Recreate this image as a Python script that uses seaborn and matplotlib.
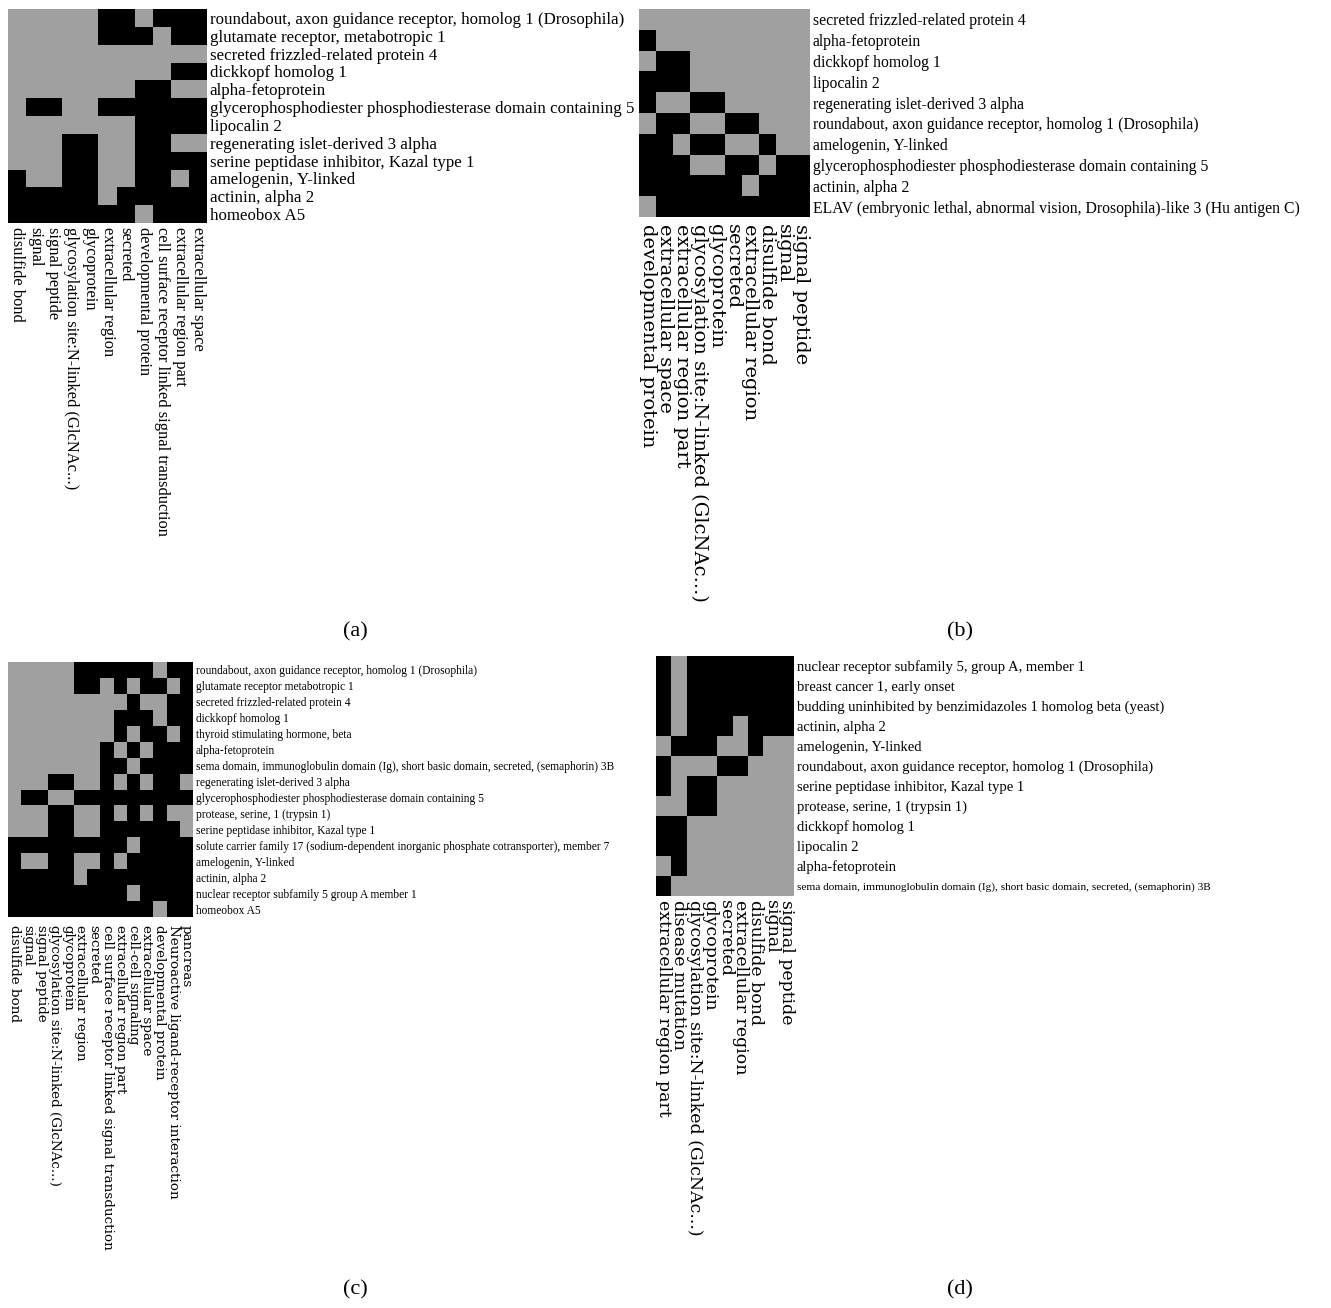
import numpy as np
import pandas as pd
import matplotlib
matplotlib.use("Agg")
import matplotlib.pyplot as plt
import seaborn as sns
from matplotlib.colors import ListedColormap

# ---- panel (a) ----
colsA = ["disulfide bond", "signal", "signal peptide", "glycosylation site:N-linked (GlcNAc...)",
         "glycoprotein", "extracellular region", "secreted", "developmental protein",
         "cell surface receptor linked signal transduction", "extracellular region part",
         "extracellular space"]
rowsA = ["roundabout, axon guidance receptor, homolog 1 (Drosophila)",
         "glutamate receptor, metabotropic 1",
         "secreted frizzled-related protein 4",
         "dickkopf homolog 1",
         "alpha-fetoprotein",
         "glycerophosphodiester phosphodiesterase domain containing 5",
         "lipocalin 2",
         "regenerating islet-derived 3 alpha",
         "serine peptidase inhibitor, Kazal type 1",
         "amelogenin, Y-linked",
         "actinin, alpha 2",
         "homeobox A5"]
matA = [[0, 0, 0, 0, 0, 1, 1, 0, 1, 1, 1],
        [0, 0, 0, 0, 0, 1, 1, 1, 0, 1, 1],
        [0, 0, 0, 0, 0, 0, 0, 0, 0, 0, 0],
        [0, 0, 0, 0, 0, 0, 0, 0, 0, 1, 1],
        [0, 0, 0, 0, 0, 0, 0, 1, 1, 0, 0],
        [0, 1, 1, 0, 0, 1, 1, 1, 1, 1, 1],
        [0, 0, 0, 0, 0, 0, 0, 1, 1, 1, 1],
        [0, 0, 0, 1, 1, 0, 0, 1, 1, 0, 0],
        [0, 0, 0, 1, 1, 0, 0, 1, 1, 1, 1],
        [1, 0, 0, 1, 1, 0, 0, 1, 1, 0, 1],
        [1, 1, 1, 1, 1, 0, 1, 1, 1, 1, 1],
        [1, 1, 1, 1, 1, 1, 1, 0, 1, 1, 1]]

# ---- panel (b) ----
colsB = ["developmental protein", "extracellular space", "extracellular region part",
         "glycosylation site:N-linked (GlcNAc...)", "glycoprotein", "secreted",
         "extracellular region", "disulfide bond", "signal", "signal peptide"]
rowsB = ["secreted frizzled-related protein 4",
         "alpha-fetoprotein",
         "dickkopf homolog 1",
         "lipocalin 2",
         "regenerating islet-derived 3 alpha",
         "roundabout, axon guidance receptor, homolog 1 (Drosophila)",
         "amelogenin, Y-linked",
         "glycerophosphodiester phosphodiesterase domain containing 5",
         "actinin, alpha 2",
         "ELAV (embryonic lethal, abnormal vision, Drosophila)-like 3 (Hu antigen C)"]
matB = [[0, 0, 0, 0, 0, 0, 0, 0, 0, 0],
        [1, 0, 0, 0, 0, 0, 0, 0, 0, 0],
        [0, 1, 1, 0, 0, 0, 0, 0, 0, 0],
        [1, 1, 1, 0, 0, 0, 0, 0, 0, 0],
        [1, 0, 0, 1, 1, 0, 0, 0, 0, 0],
        [0, 1, 1, 0, 0, 1, 1, 0, 0, 0],
        [1, 1, 0, 1, 1, 0, 0, 1, 0, 0],
        [1, 1, 1, 0, 0, 1, 1, 0, 1, 1],
        [1, 1, 1, 1, 1, 1, 0, 1, 1, 1],
        [0, 1, 1, 1, 1, 1, 1, 1, 1, 1]]

# ---- panel (c) ----
colsC = ["disulfide bond", "signal", "signal peptide", "glycosylation site:N-linked (GlcNAc...)",
         "glycoprotein", "extracellular region", "secreted",
         "cell surface receptor linked signal transduction", "extracellular region part",
         "cell-cell signaling", "extracellular space", "developmental protein",
         "Neuroactive ligand-receptor interaction", "pancreas"]
rowsC = ["roundabout, axon guidance receptor, homolog 1 (Drosophila)",
         "glutamate receptor metabotropic 1",
         "secreted frizzled-related protein 4",
         "dickkopf homolog 1",
         "thyroid stimulating hormone, beta",
         "alpha-fetoprotein",
         "sema domain, immunoglobulin domain (Ig), short basic domain, secreted, (semaphorin) 3B",
         "regenerating islet-derived 3 alpha",
         "glycerophosphodiester phosphodiesterase domain containing 5",
         "protease, serine, 1 (trypsin 1)",
         "serine peptidase inhibitor, Kazal type 1",
         "solute carrier family 17 (sodium-dependent inorganic phosphate cotransporter), member 7",
         "amelogenin, Y-linked",
         "actinin, alpha 2",
         "nuclear receptor subfamily 5 group A member 1",
         "homeobox A5"]
matC = [[0, 0, 0, 0, 0, 1, 1, 1, 1, 1, 1, 0, 1, 1],
        [0, 0, 0, 0, 0, 1, 1, 0, 1, 0, 1, 1, 0, 1],
        [0, 0, 0, 0, 0, 0, 0, 0, 0, 1, 0, 0, 1, 1],
        [0, 0, 0, 0, 0, 0, 0, 0, 1, 1, 1, 0, 1, 1],
        [0, 0, 0, 0, 0, 0, 0, 0, 1, 0, 1, 1, 0, 1],
        [0, 0, 0, 0, 0, 0, 0, 1, 0, 1, 0, 1, 1, 1],
        [0, 0, 0, 0, 0, 0, 0, 1, 1, 0, 1, 1, 1, 1],
        [0, 0, 0, 1, 1, 0, 0, 1, 0, 1, 0, 1, 1, 0],
        [0, 1, 1, 0, 0, 1, 1, 1, 1, 1, 1, 1, 1, 1],
        [0, 0, 0, 1, 1, 0, 0, 1, 0, 1, 0, 1, 0, 0],
        [0, 0, 0, 1, 1, 0, 0, 1, 1, 1, 1, 1, 1, 0],
        [1, 1, 1, 1, 1, 1, 1, 1, 1, 0, 1, 1, 1, 1],
        [1, 0, 0, 1, 1, 0, 0, 1, 0, 1, 1, 1, 1, 1],
        [1, 1, 1, 1, 1, 0, 1, 1, 1, 1, 1, 1, 1, 1],
        [1, 1, 1, 1, 1, 1, 1, 1, 1, 0, 1, 1, 1, 1],
        [1, 1, 1, 1, 1, 1, 1, 1, 1, 1, 1, 0, 1, 1]]

# ---- panel (d) ----
colsD = ["extracellular region part", "disease mutation", "glycosylation site:N-linked (GlcNAc...)",
         "glycoprotein", "secreted", "extracellular region", "disulfide bond", "signal",
         "signal peptide"]
rowsD = ["nuclear receptor subfamily 5, group A, member 1",
         "breast cancer 1, early onset",
         "budding uninhibited by benzimidazoles 1 homolog beta (yeast)",
         "actinin, alpha 2",
         "amelogenin, Y-linked",
         "roundabout, axon guidance receptor, homolog 1 (Drosophila)",
         "serine peptidase inhibitor, Kazal type 1",
         "protease, serine, 1 (trypsin 1)",
         "dickkopf homolog 1",
         "lipocalin 2",
         "alpha-fetoprotein",
         "sema domain, immunoglobulin domain (Ig), short basic domain, secreted, (semaphorin) 3B"]
matD = [[1, 0, 1, 1, 1, 1, 1, 1, 1],
        [1, 0, 1, 1, 1, 1, 1, 1, 1],
        [1, 0, 1, 1, 1, 1, 1, 1, 1],
        [1, 0, 1, 1, 1, 0, 1, 1, 1],
        [0, 1, 1, 1, 0, 0, 1, 0, 0],
        [1, 0, 0, 0, 1, 1, 0, 0, 0],
        [1, 0, 1, 1, 0, 0, 0, 0, 0],
        [0, 0, 1, 1, 0, 0, 0, 0, 0],
        [1, 1, 0, 0, 0, 0, 0, 0, 0],
        [1, 1, 0, 0, 0, 0, 0, 0, 0],
        [0, 1, 0, 0, 0, 0, 0, 0, 0],
        [1, 0, 0, 0, 0, 0, 0, 0, 0]]

W, H = 1331, 1308
fig = plt.figure(figsize=(W / 100, H / 100), dpi=100)
fig.patch.set_facecolor("white")
cmap = ListedColormap(["#a0a0a0", "#000000"])


def drawPanel(box, mat, rows, cols, ySize, xFamily, xSize, xPad, maxPx):
    x0, y0, x1, y1 = box
    ax = fig.add_axes([x0 / W, 1 - y1 / H, (x1 - x0) / W, (y1 - y0) / H])
    df = pd.DataFrame(mat, index=rows, columns=cols)
    sns.heatmap(df, ax=ax, cmap=cmap, vmin=0, vmax=1, cbar=False,
                xticklabels=True, yticklabels=True)
    ax.yaxis.tick_right()
    ax.tick_params(axis="y", length=0, pad=2)
    ax.tick_params(axis="x", length=0, pad=xPad)
    ax.set_yticklabels(rows, rotation=0, family="Liberation Serif", fontsize=ySize)
    ax.set_xticklabels(cols, rotation=-90, va="top", ha="center",
                       family=xFamily, fontsize=xSize)
    ax.set_xlabel("")
    ax.set_ylabel("")
    # squeeze the row labels that run too long, like the original does
    fig.canvas.draw()
    r = fig.canvas.get_renderer()
    for lab in ax.get_yticklabels():
        w = lab.get_window_extent(r).width
        if w > maxPx:
            lab.set_fontsize(lab.get_fontsize() * maxPx / w)
    return ax


drawPanel((8, 9, 207, 223), matA, rowsA, colsA, 12.2, "Liberation Serif", 11.9, 3, 430)
drawPanel((639, 9, 810, 217), matB, rowsB, colsB, 11.3, "DejaVu Serif", 14, 5, 512)
drawPanel((8, 662, 193, 917), matC, rowsC, colsC, 8.3, "DejaVu Serif", 9.7, 6, 420)
drawPanel((656, 656, 794, 896), matD, rowsD, colsD, 10.5, "DejaVu Serif", 12.5, 3, 410)

for label, cx, cy in [("(a)", 355, 632), ("(b)", 960, 632), ("(c)", 355, 1290), ("(d)", 960, 1290)]:
    fig.text(cx / W, 1 - cy / H, label, ha="center", va="center",
             family="Liberation Serif", fontsize=16)

fig.savefig("out.png", dpi=100, facecolor="white")
